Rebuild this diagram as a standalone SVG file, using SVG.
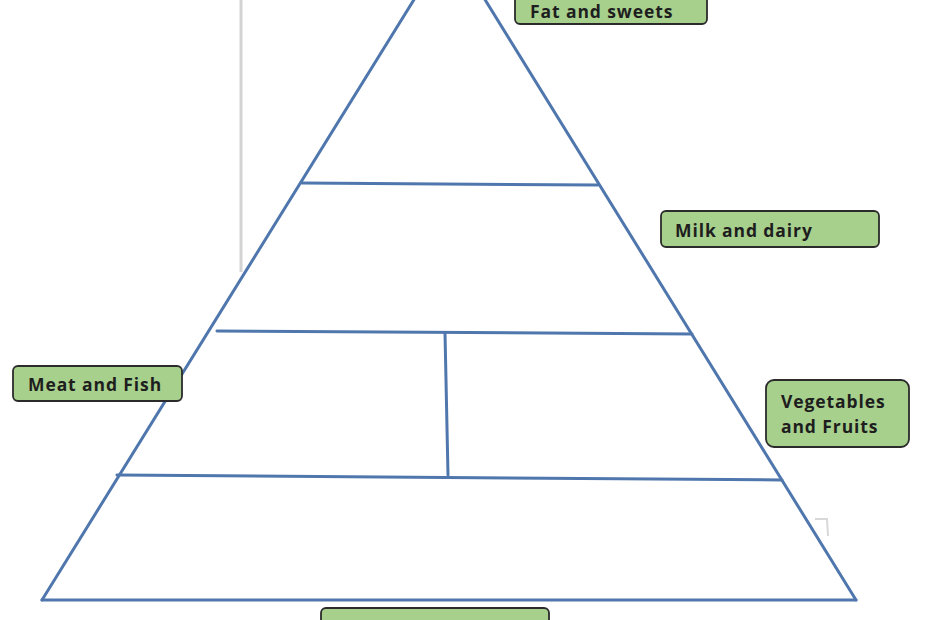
<svg xmlns="http://www.w3.org/2000/svg" width="930" height="620" viewBox="0 0 930 620">
<style>
.box{fill:#a8d08d;stroke:#2b2b2b;stroke-width:1.8}
.lbl{font-family:"Open Sans","Liberation Sans",sans-serif;font-weight:700;font-size:17.5px;letter-spacing:0.9px;fill:#1e1e1e}
.pl{stroke:#4f77ad;stroke-width:3;fill:none;stroke-linecap:round}
</style>
<rect width="930" height="620" fill="#ffffff"/>
<line x1="241" y1="0" x2="241" y2="272" stroke="#d3d3d3" stroke-width="3"/>
<path d="M815,519 L827,519 L828,536" stroke="#d8d8d8" stroke-width="2" fill="none"/>
<g id="connectors">
<line class="pl" x1="42" y1="600" x2="415" y2="-2"/>
<line class="pl" x1="484" y1="-2" x2="856" y2="600"/>
<line class="pl" x1="42" y1="600" x2="856" y2="600" stroke-width="3.5"/>
<line class="pl" x1="302" y1="183" x2="598" y2="185"/>
<line class="pl" x1="217" y1="331" x2="692" y2="334"/>
<line class="pl" x1="445" y1="333" x2="448" y2="475"/>
<line class="pl" x1="117" y1="475" x2="782" y2="480"/>
</g>
<g id="fat">
<rect class="box" x="515" y="-8" width="192" height="32" rx="5"/>
<text class="lbl" x="530" y="18">Fat and sweets</text>
</g>
<g id="milk">
<rect class="box" x="661" y="211" width="218" height="36" rx="5"/>
<text class="lbl" x="675" y="237">Milk and dairy</text>
</g>
<g id="meat">
<rect class="box" x="13" y="366" width="169" height="35" rx="5"/>
<text class="lbl" x="28" y="391">Meat and Fish</text>
</g>
<g id="veg">
<rect class="box" x="766" y="380" width="143" height="67" rx="8"/>
<text class="lbl" x="781" y="408">Vegetables</text>
<text class="lbl" x="781" y="433">and Fruits</text>
</g>
<g id="bottom">
<rect class="box" x="321" y="608" width="228" height="30" rx="5"/>
</g>
</svg>
